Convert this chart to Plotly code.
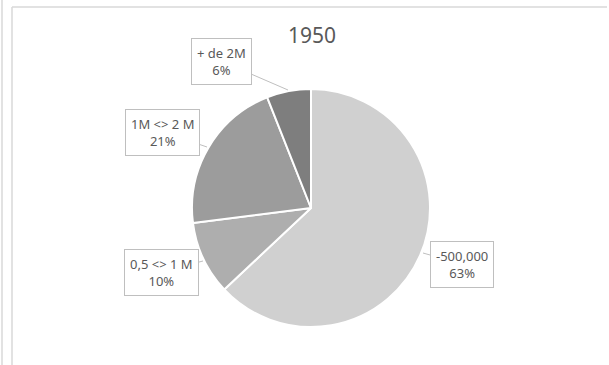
import plotly.graph_objects as go

title_text = "1950"
labels = ["-500,000", "0,5 <> 1 M", "1M <> 2 M", "+ de 2M"]
values = [63, 10, 21, 6]

colors = ["#d0d0d0", "#aeaeae", "#9c9c9c", "#7e7e7e"]
W, H = 609, 365

fig = go.Figure()
fig.add_trace(go.Pie(
    labels=labels, values=values, sort=False, direction="clockwise", rotation=0,
    marker=dict(colors=colors, line=dict(color="white", width=2)),
    textinfo="none", hoverinfo="skip", showlegend=False,
    domain=dict(x=[192 / W, 430 / W], y=[1 - 327 / H, 1 - 89 / H]),
))

total = sum(values)
# arrow tips (px) and box centers (px) for callouts
tips = [(423, 253), (203, 261), (207, 147), (288, 90)]
boxes = [(462, 264), (161, 272), (163, 132), (221, 61)]
for lab, v, (tx, ty), (bx, by) in zip(labels, values, tips, boxes):
    fig.add_annotation(
        x=tx / W, y=1 - ty / H, xref="paper", yref="paper",
        ax=bx - tx, ay=by - ty, axref="pixel", ayref="pixel",
        text=f"{lab}<br>{round(v / total * 100)}%",
        showarrow=True, arrowhead=0, arrowwidth=1, arrowcolor="#bfbfbf",
        bordercolor="#bfbfbf", borderwidth=1, borderpad=5, bgcolor="white",
        font=dict(family="Noto Sans", size=13, color="#595959"),
        align="center",
    )

fig.add_annotation(x=312 / W, y=1 - 35 / H, xref="paper", yref="paper",
                   xanchor="center", yanchor="middle",
                   text=title_text, showarrow=False,
                   font=dict(family="Noto Sans", size=21, color="#595959"))

line = dict(color="#d9d9d9", width=1.5)
fig.add_shape(type="line", xref="paper", yref="paper", x0=2 / W, x1=2 / W, y0=0, y1=1, line=line)
fig.add_shape(type="line", xref="paper", yref="paper", x0=12 / W, x1=12 / W, y0=0, y1=1 - 7 / H, line=line)
fig.add_shape(type="line", xref="paper", yref="paper", x0=12 / W, x1=607 / W, y0=1 - 7 / H, y1=1 - 7 / H, line=line)

fig.update_layout(width=W, height=H, margin=dict(l=0, r=0, t=0, b=0),
                  paper_bgcolor="white", plot_bgcolor="white")
fig.write_html("out.html", config={"displayModeBar": False},
               post_script="document.body.style.margin='0';document.body.style.overflow='hidden';")
